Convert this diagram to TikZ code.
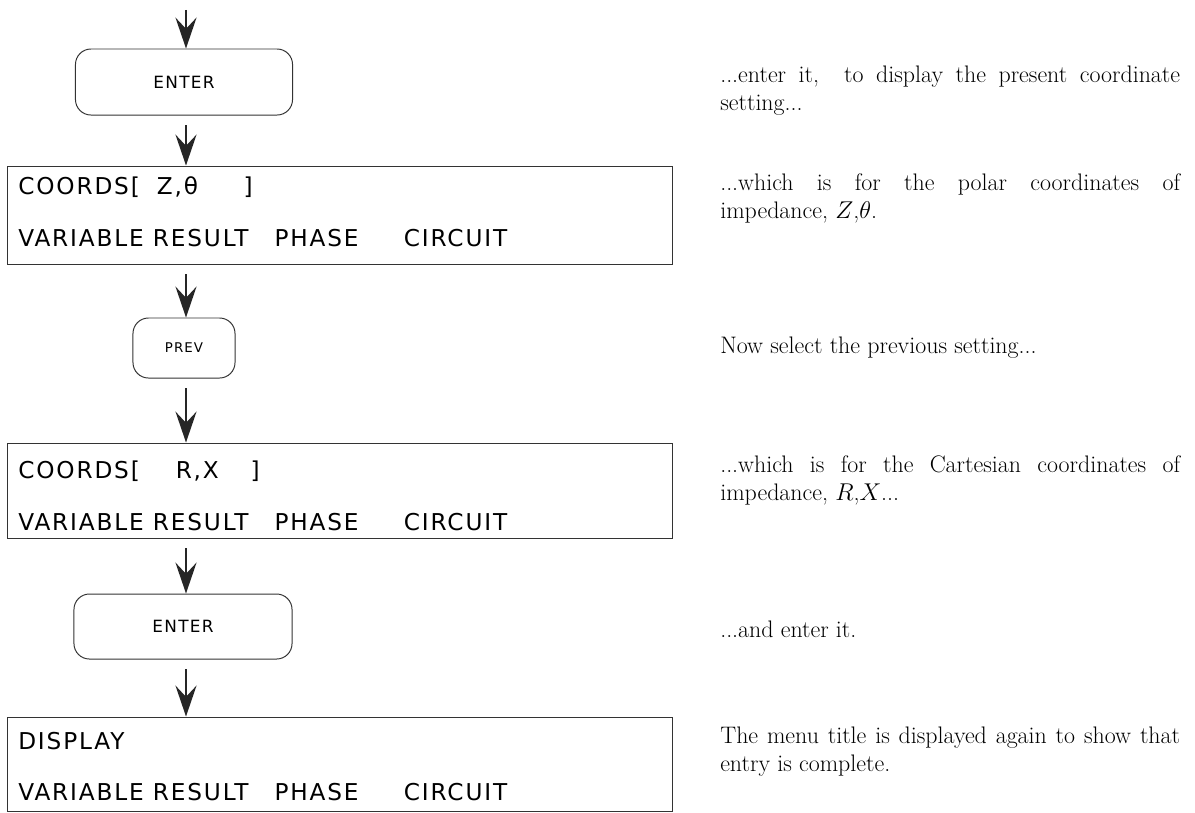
\documentclass[tikz,border=0pt]{standalone}
\usepackage{fontspec}
\newfontfamily\lcdfont[LetterSpace=8]{DejaVu Sans}
\usetikzlibrary{positioning,arrows.meta,calc}

% fixed-width cells of the display
\newcommand{\cell}[2]{\makebox[#1][l]{#2}}
\newcommand{\menurow}{\cell{95.7pt}{VARIABLE}\cell{86.5pt}{RESULT}\cell{92pt}{PHASE}CIRCUIT}

\begin{document}
\begin{tikzpicture}[
  x=0.025cm, y=-0.025cm,
  every node/.style={inner sep=0pt},
  keybox/.style={draw=black!80, line width=0.7pt, rounded corners=11pt, font=\lcdfont\fontsize{12}{14}\selectfont},
  dispbox/.style={draw=black!80, line width=0.7pt, minimum width=16.6cm},
  lcd/.style={anchor=base west, font=\lcdfont\fontsize{16.5}{18}\selectfont},
  note/.style={anchor=base west, text width=327pt, align=justify, font=\fontsize{17}{20}\selectfont},
  flow/.style={draw=black!85, line width=1.3pt, shorten <=7pt, -{Stealth[length=22pt,width=15pt,inset=8pt]}}
]
\useasboundingbox (0,0) rectangle (1195,812);
\coordinate (top) at (186,0);

% keys and display boxes
\node[keybox, minimum width=5.425cm, minimum height=1.65cm] (enter1) at (184,82) {ENTER};
\node[dispbox, minimum height=2.45cm] (disp1) at (340,215) {};
\node[keybox, minimum width=2.55cm, minimum height=1.5cm, font=\lcdfont\fontsize{9.5}{11}\selectfont] (prev) at (184,348) {PREV};
\node[dispbox, minimum height=2.375cm] (disp2) at (340,490.5) {};
\node[keybox, minimum width=5.45cm, minimum height=1.625cm] (enter2) at (183,626.5) {ENTER};
\node[dispbox, minimum height=2.35cm] (disp3) at (340,764) {};

% display lines
\node[lcd] (coords1) at (18,194) {\cell{98.5pt}{COORDS[}\cell{61.7pt}{Z,θ}]};
\node[lcd] (menu1) at (18,246) {\menurow};
\node[lcd] (coords2) at (18,478) {\cell{112pt}{COORDS[}\cell{53.2pt}{R,X}]};
\node[lcd] (menu2) at (18,530) {\menurow};
\node[lcd] (title3) at (18,749) {DISPLAY};
\node[lcd] (menu3) at (18,800) {\menurow};

% flow arrows
\draw[flow] (top) -- (enter1.north -| top);
\foreach \a/\b in {enter1/disp1, disp1/prev, prev/disp2, disp2/enter2, enter2/disp3}
  \draw[flow] (\a.south -| top) -- (\b.north -| top);

% notes on the right
\node[note] (note1) at (720,82) {...enter it,\ \ to display the present coordinate\linebreak setting...};
\node[note] (note2) at (720,190) {...which is for the polar coordinates of\linebreak impedance, $Z$,$\theta$.};
\node[note] (note3) at (720,353) {Now select the previous setting...};
\node[note] (note4) at (720,472) {...which is for the Cartesian coordinates of\linebreak impedance, $R$,$X$...};
\node[note] (note5) at (720,637) {...and enter it.};
\node[note] (note6) at (720,743) {The menu title is displayed again to show that\linebreak entry is complete.};
\end{tikzpicture}
\end{document}
